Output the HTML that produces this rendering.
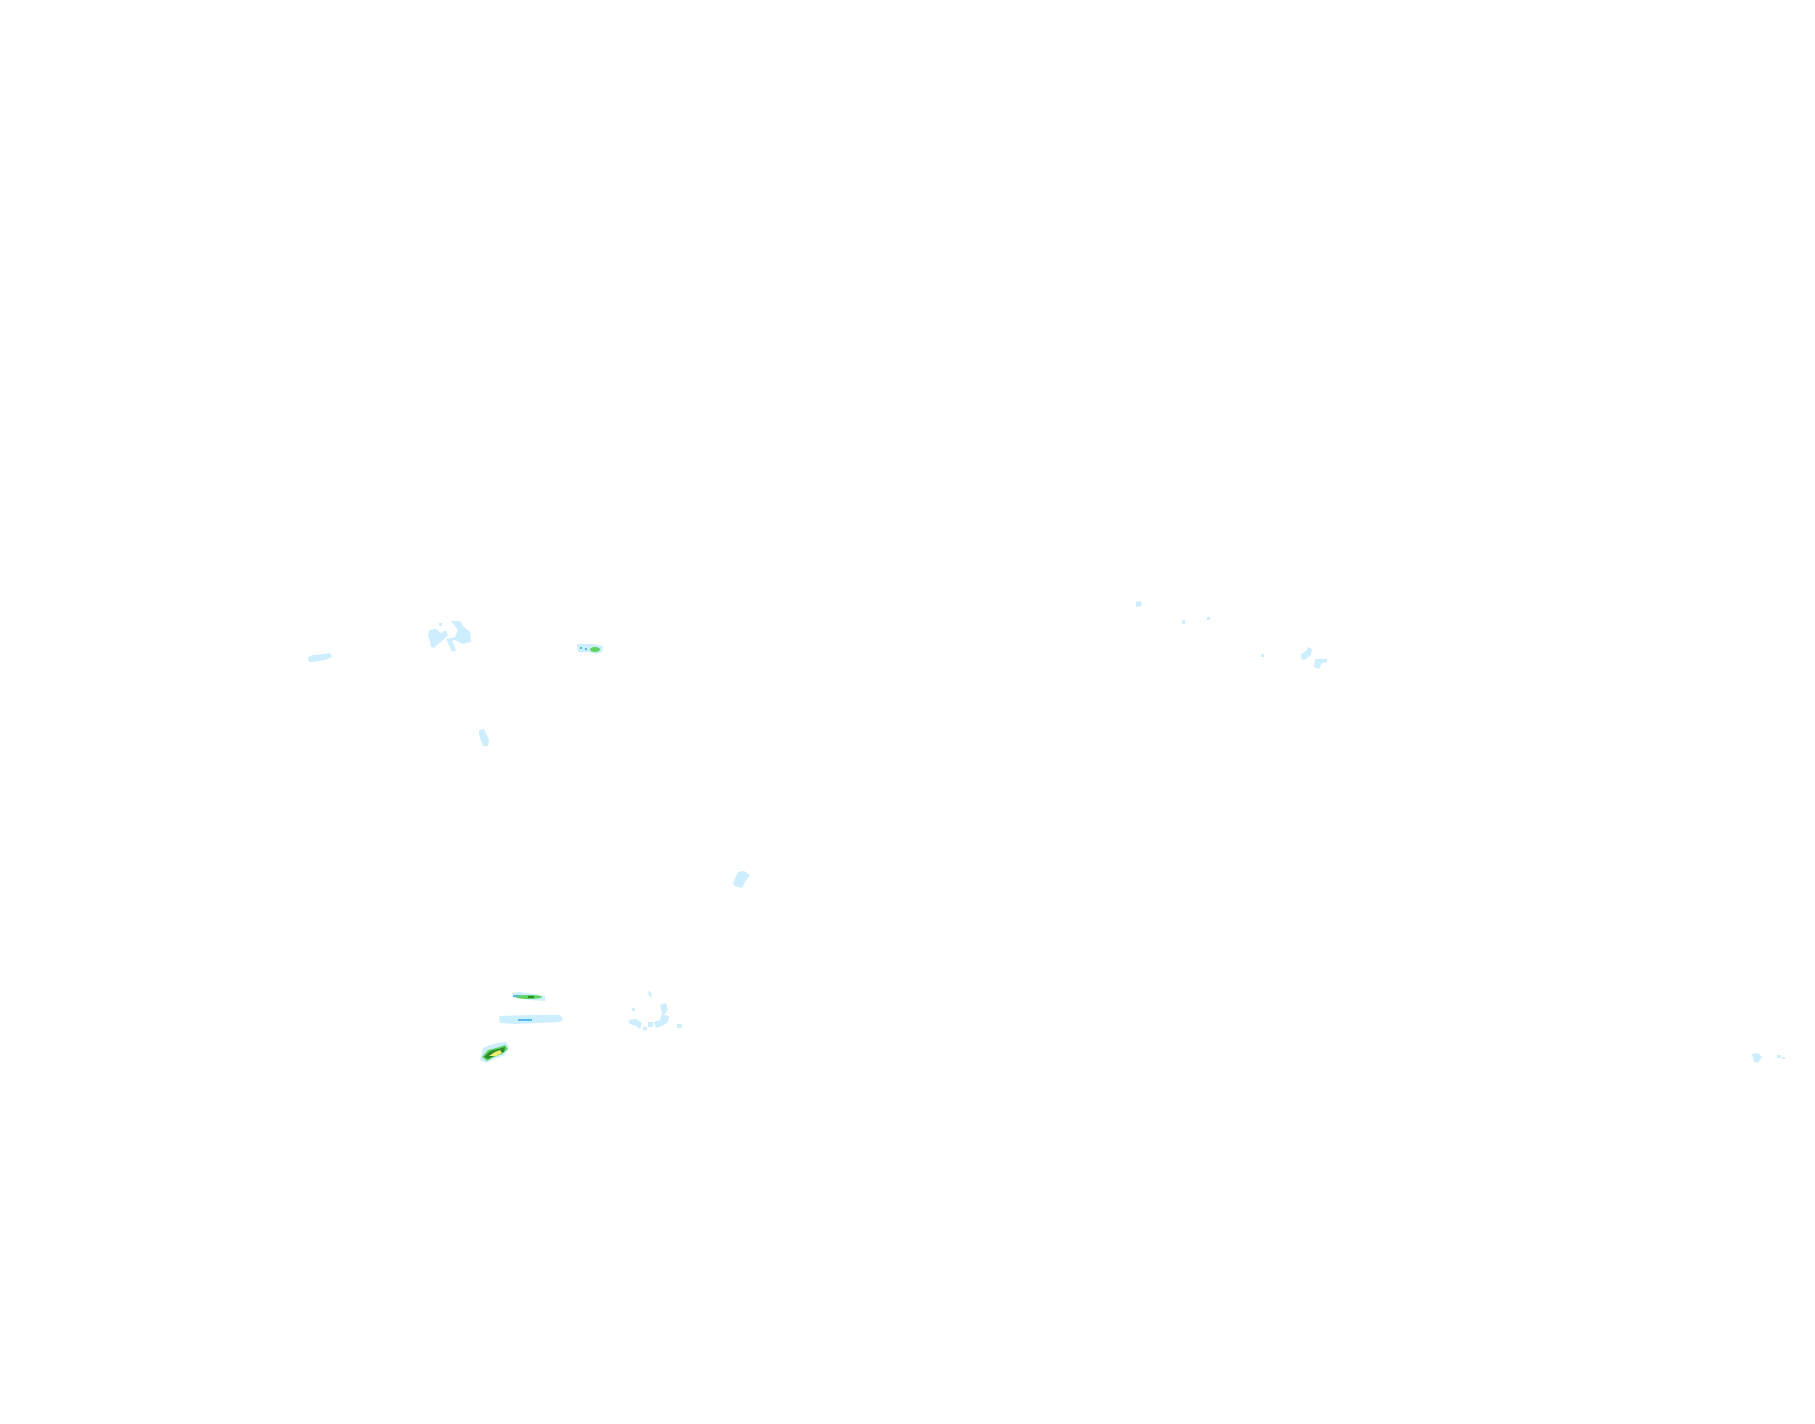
<!DOCTYPE html>
<html><head><meta charset="utf-8"><style>html,body{margin:0;padding:0;background:#fff;width:1815px;height:1424px;overflow:hidden}</style></head>
<body>
<svg width="1815" height="1424" viewBox="0 0 1815 1424" xmlns="http://www.w3.org/2000/svg">
<g fill="#cdeefe">
<polygon points="308,657 313,655 325,654 330,653 332,657 325,660 312,662 309,662"/>
<polygon points="429,630 436,629 441,633 446,630 448,635 442,641 437,645 434,648 431,647 430,641 428,636"/>
<polygon points="451,621 460,621 463,626 470,632 471,642 462,644 455,640 452,641 456,650 452,652 448,643 446,639 455,637 458,630"/>
<rect x="439" y="623" width="3" height="3"/>
<polygon points="577,644 592,644 603,646 602,652 596,654 588,652 578,652"/>
<polygon points="479,730 484,729 489,740 488,746 483,746 479,735"/>
<polygon points="738,872 744,871 750,875 745,882 742,888 734,886 733,883"/>
<polygon points="512,993 520,992 535,994 545,996 545,1001 530,1000 514,998"/>
<polygon points="499,1016 530,1015 560,1015 563,1019 560,1022 540,1023 515,1024 500,1023"/>
<polygon points="483,1048 490,1045 498,1043 506,1042 509,1047 505,1055 494,1059 486,1063 480,1060"/>
<polygon points="628,1020 636,1019 642,1023 640,1029 636,1026 630,1024"/>
<polygon points="648,991 651,992 652,997 649,996"/>
<polygon points="660,1005 666,1003 668,1010 664,1015 669,1016 668,1022 662,1026 656,1028 654,1022 660,1020 662,1013"/>
<rect x="632" y="1008" width="3" height="3"/><rect x="648" y="1022" width="5" height="5"/>
<rect x="677" y="1024" width="5" height="4"/><rect x="643" y="1027" width="4" height="3"/>
<polygon points="1136,602 1141,601 1142,606 1136,607"/>
<rect x="1182" y="620" width="3" height="4"/><rect x="1207" y="617" width="3" height="3"/><rect x="1261" y="654" width="3" height="3"/>
<polygon points="1301,654 1306,651 1308,647 1312,649 1311,655 1306,659 1302,660"/>
<polygon points="1315,659 1327,659 1327,662 1322,663 1319,669 1314,667"/>
<polygon points="1752,1054 1758,1053 1762,1057 1758,1063 1754,1062"/>
<rect x="1777" y="1055" width="4" height="3"/><rect x="1782" y="1057" width="3" height="2"/>
</g>
<g fill="#55bbee">
<rect x="580" y="647" width="2" height="2"/><rect x="585" y="648" width="2" height="2"/>
<rect x="518" y="1019" width="14" height="2"/>
<rect x="513" y="995" width="8" height="2"/>
</g>
<g fill="#5fd35f">
<ellipse cx="595" cy="649.5" rx="5" ry="2.5"/>
<ellipse cx="529" cy="997" rx="13" ry="2"/>
<polygon points="482,1057 488,1050 496,1048 505,1045 508,1049 502,1054 494,1057 487,1061"/>
</g>
<g fill="#2e8b2e">
<rect x="528" y="996" width="6" height="2"/>
<polygon points="484,1057 490,1051 498,1049 505,1047 504,1052 496,1055 488,1059"/>
</g>
<polygon fill="#f0ee6a" points="489,1056 495,1052 500,1050 502,1053 496,1056"/>
</svg>
</body></html>
